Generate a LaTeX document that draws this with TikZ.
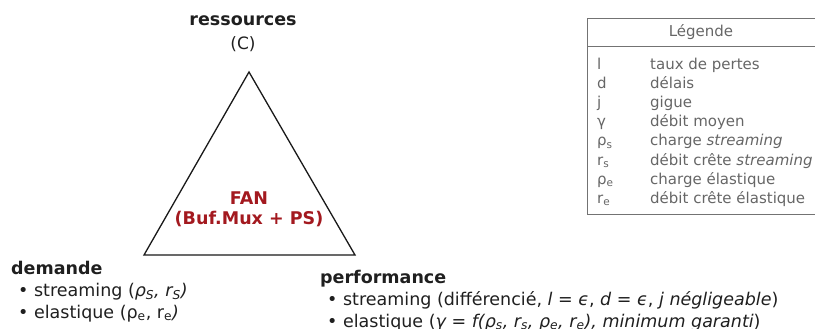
\documentclass[tikz,border=0pt]{standalone}
\usepackage{fontspec}
\setmainfont{DejaVu Sans}
\begin{document}
\begin{tikzpicture}[x=1pt,y=-1pt,
  title/.style={font=\fontsize{17.5}{20}\selectfont\bfseries, text=black!88, inner sep=0pt},
  body/.style={font=\fontsize{17.5}{20}\selectfont, text=black!88, inner sep=0pt, anchor=base west},
  fan/.style={font=\fontsize{17.5}{20}\selectfont\bfseries, text=fanred, inner sep=0pt},
  leg/.style={font=\fontsize{15}{18}\selectfont, text=black!60, inner sep=0pt, anchor=base west},
  legbox/.style={draw=black!55, line width=0.9pt}]
\definecolor{fanred}{HTML}{A3191F}
\useasboundingbox (0,0) rectangle (815,329);
% triangle
\coordinate (top) at (249,72);
\coordinate (bl) at (144,255);
\coordinate (br) at (355,255);
\draw[line width=1.3pt, black!90, line join=miter] (top) -- (bl) -- (br) -- cycle;
\node[title] (res) at (243,21) {ressources};
\node[font=\fontsize{17}{20}\selectfont, text=black!88, inner sep=0pt] (c) at (243,44) {(C)};
\node[fan] (fan1) at (249,198) {FAN};
\node[fan] (fan2) at (249,219) {(Buf.Mux + PS)};
% demande
\node[title, anchor=base west] (dem) at (11,274) {demande};
\node[body] (dem1) at (18,296) {• streaming (\textit{ρ\textsubscript{S}, r\textsubscript{S})}};
\node[body] (dem2) at (18,318) {• elastique (ρ\textsubscript{e}, r\textsubscript{e}\textit{)}};
% performance
\node[title, anchor=base west] (perf) at (320,283) {performance};
\node[body] (perf1) at (327,305) {• streaming (différencié, \textit{l} = \textit{ϵ}, \textit{d} = \textit{ϵ}, \textit{j négligeable})};
\node[body] (perf2) at (327,327) {• elastique (\textit{γ = f(ρ\textsubscript{s}, r\textsubscript{s}, ρ\textsubscript{e}, r\textsubscript{e}), minimum garanti})};
% legend
\coordinate (lgA) at (587,18);
\coordinate (lgB) at (820,214);
\draw[legbox] (lgA) rectangle (lgB);
\coordinate (hl) at (587,46);
\coordinate (hr) at (820,46);
\draw[legbox] (hl) -- (hr);
\node[font=\fontsize{15}{18}\selectfont, text=black!60, inner sep=0pt] (lgt) at (701,32) {Légende};
\foreach \s/\t [count=\i] in {l/taux de pertes, d/délais, j/gigue, γ/débit moyen,
  ρ\textsubscript{s}/charge \textit{streaming}, r\textsubscript{s}/débit crête \textit{streaming},
  ρ\textsubscript{e}/charge élastique, r\textsubscript{e}/débit crête élastique}{
  \node[leg] (sym\i) at (597,{51+19*\i}) {\s};
  \node[leg] (txt\i) at (650,{51+19*\i}) {\t};
}
\end{tikzpicture}
\end{document}
